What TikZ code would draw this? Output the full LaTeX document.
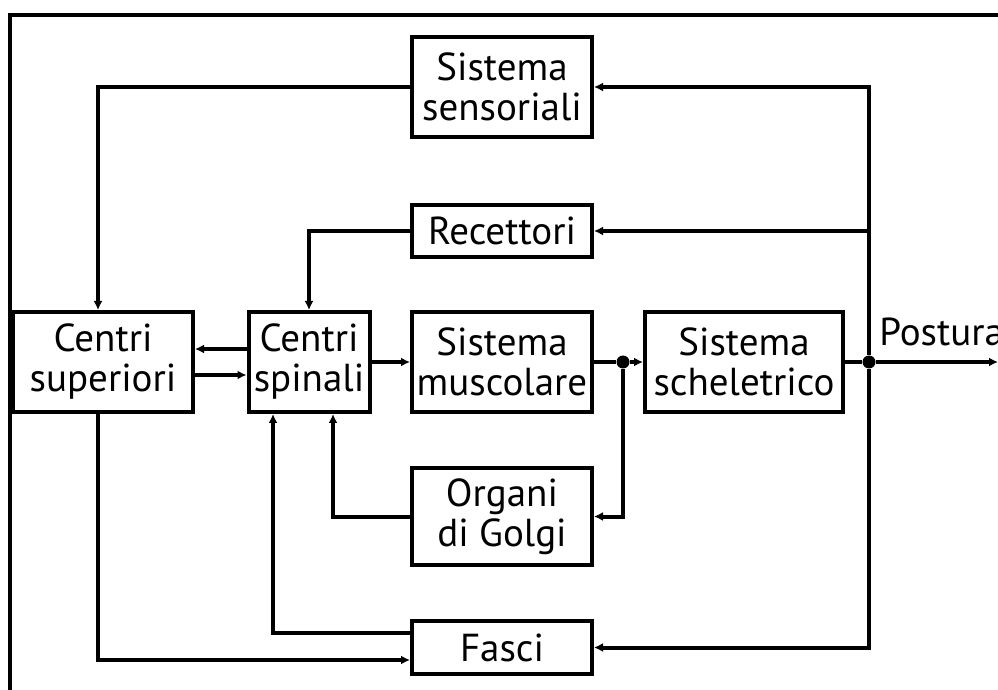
\documentclass[tikz,border=0pt]{standalone}
\usepackage{fontspec}
\setmainfont{PT Sans}
\usetikzlibrary{positioning,calc,arrows.meta}

\begin{document}
\begin{tikzpicture}[
  x=0.5pt, y=-0.5pt,
  block/.style={
    draw,
    line width=2pt,
    align=center,
    inner sep=0pt,
    font=\fontsize{19.5}{20}\selectfont
  },
  wire/.style={line width=2pt},
  jdot/.style={circle, fill, inner sep=0pt, minimum size=6.5pt},
  >={Latex[length=4.5pt,width=4.5pt]}
]
\useasboundingbox (0,0) rectangle (998,690);
\draw[wire] (998,15) -- (10,15) -- (10,700);

\node[block, minimum width=90pt, minimum height=50pt] (sens) at (502,87) {Sistema\\sensoriali};
\node[block, minimum width=90pt, minimum height=26pt] (rec) at (502,231) {Recettori};
\node[block, minimum width=90pt, minimum height=50pt] (csup) at (103,362) {Centri\\superiori};
\node[block, minimum width=60.5pt, minimum height=50pt] (cspin) at (309,362) {Centri\\spinali};
\node[block, minimum width=90pt, minimum height=50pt] (musc) at (502,362) {Sistema\\muscolare};
\node[block, minimum width=99pt, minimum height=50pt] (schel) at (744,362) {Sistema\\scheletrico};
\node[block, minimum width=90pt, minimum height=48.5pt] (golgi) at (502,516.5) {Organi\\di Golgi};
\node[block, minimum width=90pt, minimum height=26.5pt] (fasci) at (502,647.5) {Fasci};

\node[jdot] (jmid) at (623,362) {};
\node[jdot] (jout) at (869,362) {};
\coordinate (jtop) at (869,87);
\coordinate (post) at (998,362);
\node[font=\fontsize{19.5}{20}\selectfont, anchor=south west, inner sep=0pt] (postlbl) at (879,346) {Postura};

\draw[wire,->] (schel.east) -- (jout) -- (post);
\draw[wire,->] (jout) -- (jtop) -- (sens.east);
\draw[wire,->] (jout |- rec.east) -- (rec.east);
\draw[wire,->] (jout) |- (fasci.east);

\draw[wire,->] (sens.west) -| ([xshift=-2.5pt]csup.north);
\draw[wire,->] (rec.west) -| (cspin.north);
\draw[wire,->] ([yshift=6.5pt]cspin.west) -- ([yshift=6.5pt]csup.east);
\draw[wire,->] ([yshift=-6.5pt]csup.east) -- ([yshift=-6.5pt]cspin.west);
\draw[wire,->] (cspin.east) -- (musc.west);
\draw[wire,->] (musc.east) -- (jmid) -- (schel.west);
\draw[wire,->] (jmid) |- (golgi.east);
\draw[wire,->] (golgi.west) -| ([xshift=12pt]cspin.south);
\draw[wire,->] ([yshift=7.25pt]fasci.west) -| ([xshift=-18pt]cspin.south);
\draw[wire,->] ([xshift=-2.5pt]csup.south) |- ([yshift=-6.25pt]fasci.west);
\end{tikzpicture}
\end{document}
